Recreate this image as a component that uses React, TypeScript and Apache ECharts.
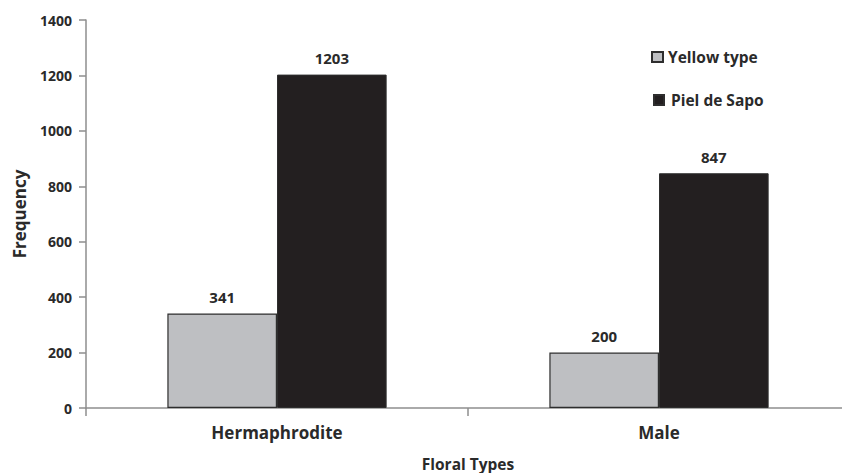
import React, { useEffect, useRef } from "react";
import * as echarts from "echarts";

const categories = ["Hermaphrodite", "Male"];
const yellowType = [341, 200];
const pielDeSapo = [1203, 847];
const seriesNames = ["Yellow type", "Piel de Sapo"];

const FONT = "Open Sans";
const TXT = "#2a2a2a";
const AXIS = "#8e8e8e";

export default function App() {
  const ref = useRef<HTMLDivElement>(null);
  useEffect(() => {
    const chart = echarts.init(ref.current!, null, { renderer: "svg" });
    const legendText = { fontFamily: FONT, fontWeight: "bold", fontSize: 15.5, color: TXT };
    chart.setOption({
      animation: false,
      backgroundColor: "#ffffff",
      textStyle: { fontFamily: FONT },
      grid: { left: 86, right: -8, top: 20, bottom: 65, containLabel: false, outerBoundsMode: "none" },
      legend: [
        {
          left: 651,
          top: 49,
          padding: 0,
          itemWidth: 11,
          itemHeight: 10,
          icon: "rect",
          textStyle: legendText,
          data: [seriesNames[0]],
        },
        {
          left: 653,
          top: 92,
          padding: 0,
          itemWidth: 10,
          itemHeight: 10,
          icon: "rect",
          textStyle: { ...legendText, padding: [0, 0, 0, 2] },
          data: [seriesNames[1]],
        },
      ],
      xAxis: {
        type: "category",
        data: categories,
        name: "Floral Types",
        nameLocation: "middle",
        nameGap: 47,
        nameTextStyle: { fontFamily: FONT, fontWeight: "bold", fontSize: 15.5, lineHeight: 17, color: TXT },
        axisLine: { lineStyle: { color: AXIS, width: 1.5 } },
        axisTick: { show: true, length: 8, lineStyle: { color: AXIS, width: 1.5 } },
        axisLabel: { fontFamily: FONT, fontWeight: "bold", fontSize: 17, color: TXT, margin: 16 },
      },
      yAxis: {
        type: "value",
        min: 0,
        max: 1400,
        interval: 200,
        name: "Frequency",
        nameLocation: "middle",
        nameRotate: 90,
        nameGap: 58,
        nameTextStyle: { fontFamily: FONT, fontWeight: "bold", fontSize: 17, color: TXT },
        axisLine: { show: true, lineStyle: { color: AXIS, width: 1.5 } },
        axisTick: { show: true, length: 7, lineStyle: { color: AXIS, width: 1.5 } },
        splitLine: { show: false },
        axisLabel: {
          fontFamily: FONT,
          fontWeight: "bold",
          fontSize: 14,
          color: TXT,
          margin: 14,
          formatter: (v: number) => String(v),
        },
      },
      series: [
        {
          name: seriesNames[0],
          type: "bar",
          data: yellowType,
          barWidth: "28.7%",
          barGap: "0%",
          itemStyle: { color: "#bebfc2", borderColor: "#2e2e2e", borderWidth: 1.2 },
          label: {
            show: true,
            position: "top",
            distance: 9,
            fontFamily: FONT,
            fontWeight: "bold",
            fontSize: 15,
            color: TXT,
          },
        },
        {
          name: seriesNames[1],
          type: "bar",
          data: pielDeSapo,
          barWidth: "28.7%",
          barGap: "0%",
          itemStyle: { color: "#231f20", borderColor: "#2e2e2e", borderWidth: 1 },
          label: {
            show: true,
            position: "top",
            distance: 9,
            fontFamily: FONT,
            fontWeight: "bold",
            fontSize: 15,
            color: TXT,
          },
        },
      ],
    });
    return () => chart.dispose();
  }, []);
  return <div ref={ref} style={{ width: 842, height: 473, position: "absolute", left: 0, top: 0 }} />;
}
